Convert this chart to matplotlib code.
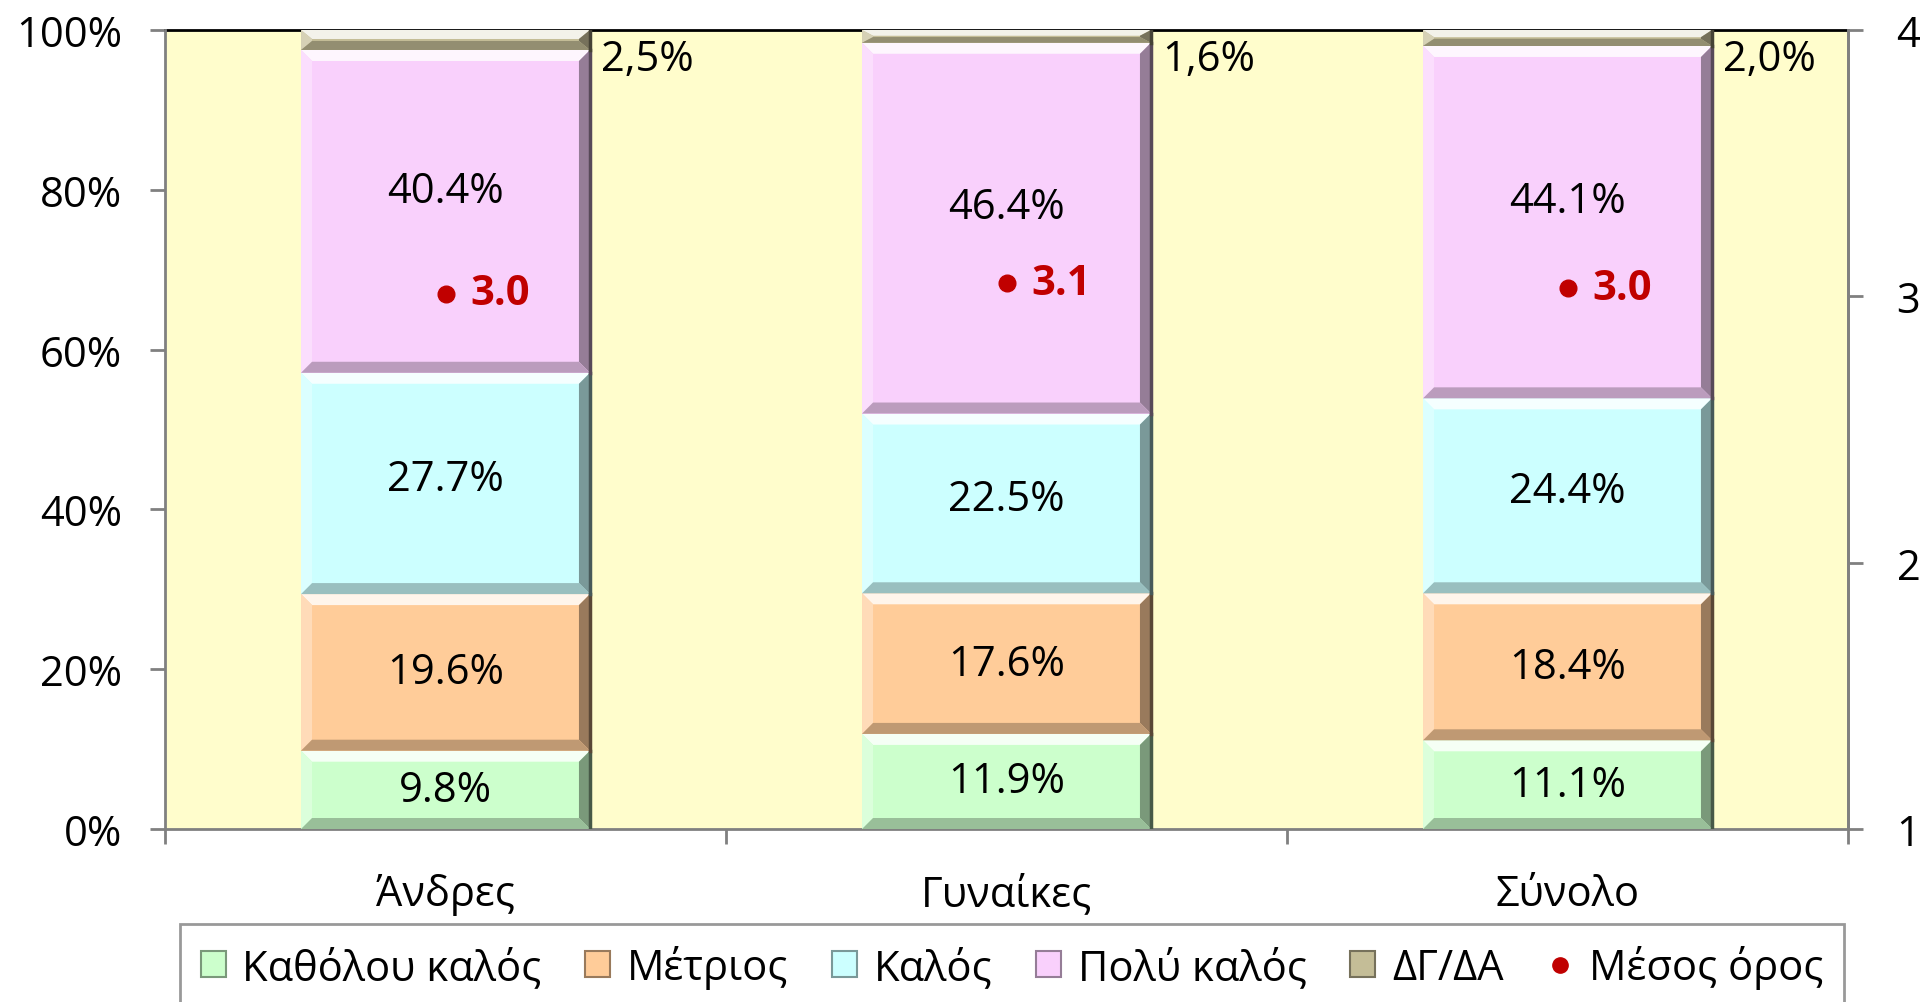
import matplotlib
matplotlib.use("Agg")
import matplotlib.pyplot as plt
from matplotlib.patches import Polygon, Rectangle
from matplotlib.lines import Line2D
import numpy as np

plt.rcParams['font.family'] = ['Open Sans', 'DejaVu Sans']

# data
groups = ["Άνδρες", "Γυναίκες", "Σύνολο"]
series = ["Καθόλου καλός", "Μέτριος", "Καλός", "Πολύ καλός", "ΔΓ/ΔΑ"]
kathol = [9.8, 11.9, 11.1]
metrios = [19.6, 17.6, 18.4]
kalos = [27.7, 22.5, 24.4]
poly_kalos = [40.4, 46.4, 44.1]
dg_da = [2.5, 1.6, 2.0]
means = [3.01, 3.05, 3.03]
mean_labels = ["3.0", "3.1", "3.0"]

colors = ["#CCFFCC", "#FFCC99", "#CCFFFF", "#F9D0FC", "#C4BD97"]
bg = "#FFFDCC"
grey = "#808080"
# label nudges (percentage points) per series, to sit like the original
label_shift = [0.0, 0.0, 0.6, 2.6]

W, H = 1921, 1003
fig = plt.figure(figsize=(W / 100, H / 100), dpi=100)
ax = fig.add_axes([165 / W, 1 - 830 / H, (1848 - 165) / W, (830 - 31) / H])
ax.set_facecolor(bg)

x = np.arange(len(groups))
bw = 0.515
ax.set_xlim(-0.5, 2.5)
ax.set_ylim(0, 100)

# pixel -> data conversion for bevels
px_x = 3.0 / (1848 - 165)
px_y = 100.0 / (830 - 31)


def mix(c, other, t):
    c = np.array(matplotlib.colors.to_rgb(c))
    o = np.array(matplotlib.colors.to_rgb(other))
    return tuple(c * (1 - t) + o * t)


def bevel(x0, y0, w, h, color, bpx=11):
    x1, y1 = x0 + w, y0 + h
    dx = bpx * px_x
    dy = min(bpx * px_y, h * 0.45)
    ax.add_patch(Rectangle((x0, y0), w, h, facecolor=color, edgecolor='none', zorder=3))
    faces = [
        ([(x0, y1), (x1, y1), (x1 - dx, y1 - dy), (x0 + dx, y1 - dy)], mix(color, "white", 0.8)),
        ([(x0, y0), (x0, y1), (x0 + dx, y1 - dy), (x0 + dx, y0 + dy)], mix(color, "white", 0.3)),
        ([(x1, y0), (x1, y1), (x1 - dx, y1 - dy), (x1 - dx, y0 + dy)], mix(color, "black", 0.4)),
        ([(x0, y0), (x1, y0), (x1 - dx, y0 + dy), (x0 + dx, y0 + dy)], mix(color, "black", 0.25)),
    ]
    for pts, fc in faces:
        ax.add_patch(Polygon(pts, closed=True, facecolor=fc, edgecolor='none', zorder=3))
    ax.plot([x1, x1], [y0, y1], color=mix(color, "black", 0.65), lw=2.5, zorder=3.5)


data = [kathol, metrios, kalos, poly_kalos, dg_da]
bottoms = np.zeros(len(groups))
for k, vals in enumerate(data):
    for i in range(len(groups)):
        x0 = x[i] - bw / 2
        bevel(x0, bottoms[i], bw, vals[i], colors[k])
        if k < 4:
            ax.text(x[i], bottoms[i] + vals[i] / 2 + label_shift[k], "%.1f%%" % vals[i],
                    ha='center', va='center', fontsize=30, zorder=5)
        else:
            ax.text(x0 + bw + 11 * px_x, 100 - 1.0, ("%.1f%%" % vals[i]).replace('.', ','),
                    ha='left', va='top', fontsize=30, zorder=5)
    bottoms += np.array(vals)

# axes styling
ax.set_yticks(np.arange(0, 101, 20))
ax.set_yticklabels(["%d%%" % v for v in range(0, 101, 20)])
ax.tick_params(axis='y', labelsize=30, length=11, width=2, color=grey, pad=20)
ax.set_xticks(x)
ax.set_xticklabels(groups)
ax.set_xticks([-0.5, 0.5, 1.5, 2.5], minor=True)
ax.tick_params(axis='x', which='major', length=0, labelsize=30, pad=32)
ax.tick_params(axis='x', which='minor', length=11, width=2, color=grey)
for s in ['left', 'bottom', 'right']:
    ax.spines[s].set_color(grey)
    ax.spines[s].set_linewidth(2)
ax.spines['top'].set_color('black')
ax.spines['top'].set_linewidth(2)
ax.spines['top'].set_zorder(2)

# secondary axis for mean
ax2 = ax.twinx()
ax2.set_ylim(1, 4)
ax2.set_yticks([1, 2, 3, 4])
ax2.tick_params(axis='y', labelsize=30, length=11, width=2, color=grey, pad=24)
for s in ['left', 'bottom', 'top']:
    ax2.spines[s].set_visible(False)
ax2.spines['right'].set_color(grey)
ax2.spines['right'].set_linewidth(2)
ax2.plot(x, means, 'o', color="#C00000", markersize=12, linestyle='none', zorder=6)
for i in range(len(groups)):
    ax2.text(x[i] + 25 * px_x, means[i], mean_labels[i], color="#C00000",
             fontweight='bold', fontsize=30, ha='left', va='center', zorder=6)

# legend
handles = [Rectangle((0, 0), 1, 1, facecolor=c, edgecolor=mix(c, "black", 0.4), lw=1.5)
           for c in colors]
handles.append(Line2D([], [], marker='o', color="#C00000", linestyle='none', markersize=11))
leg = fig.legend(handles, series + ["Μέσος όρος"], loc='upper center',
                 bbox_to_anchor=(1012 / W, 1 - 925 / H), ncol=6, fontsize=30,
                 frameon=True, fancybox=False, edgecolor=grey, handlelength=0.6,
                 handleheight=0.6, handletextpad=0.4, columnspacing=1.05,
                 borderpad=0.5, borderaxespad=0)
leg.get_frame().set_linewidth(2)

fig.savefig("out.png", dpi=100)
